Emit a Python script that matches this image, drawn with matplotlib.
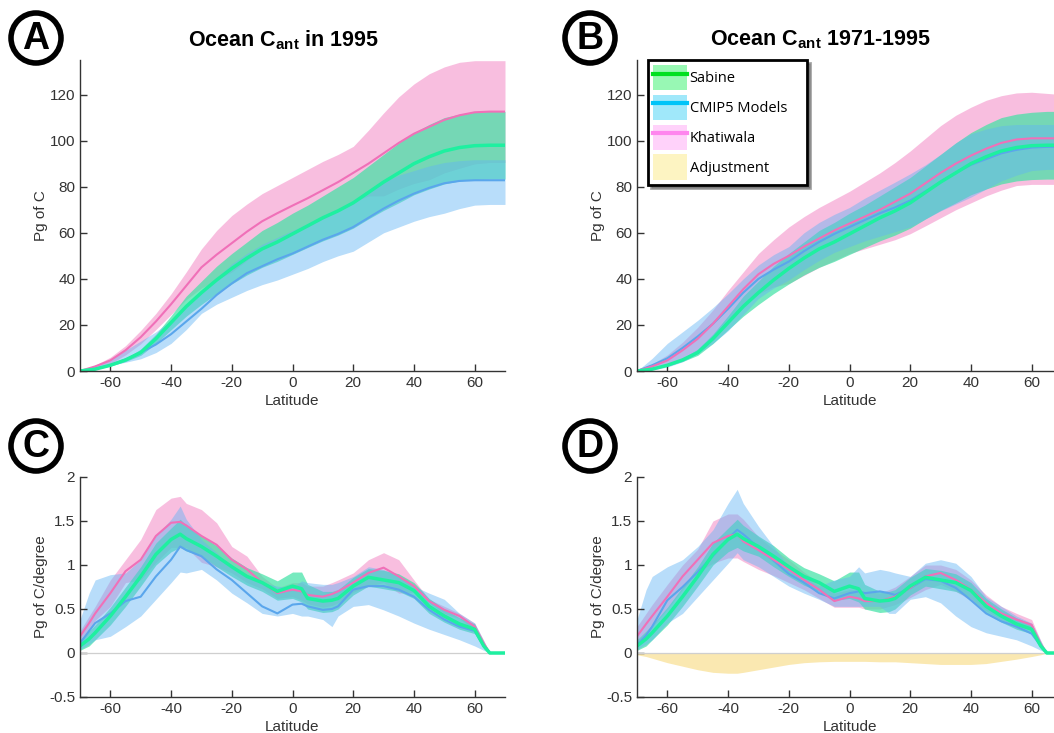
import matplotlib
matplotlib.use("Agg")
import matplotlib.pyplot as plt
from matplotlib.patches import Ellipse, Patch
from matplotlib.lines import Line2D

plt.rcParams['font.family'] = ['Liberation Sans', 'DejaVu Sans']
plt.rcParams['mathtext.fontset'] = 'custom'
plt.rcParams['mathtext.rm'] = 'Liberation Sans'
plt.rcParams['mathtext.bf'] = 'Liberation Sans:bold'

# ---- cumulative inventories (panels A, B), Pg C ----
lat = [-70, -65, -60, -55, -50, -45, -40, -35, -30, -25, -20, -15, -10, -5, 0,
       5, 10, 15, 20, 25, 30, 35, 40, 45, 50, 55, 60, 65, 70]

sabine = [0, 0.8, 2.5, 4.8, 8, 14, 21, 28, 34, 39.5, 44.5, 49, 53, 56, 59.5,
          63, 66.5, 69.5, 73, 77.5, 82, 86, 90, 93, 95.5, 97, 97.8, 98, 98]
sabine_hi = [0, 1, 3, 5.5, 9.5, 16, 24, 32.5, 39, 45.5, 51, 56, 61, 64.5, 68.5,
             72, 76, 80, 84, 89, 94, 99, 103.5, 107, 110, 111.5, 112.3, 112.7, 112.7]
sabine_lo = [0, 0.7, 2.1, 4.1, 6.8, 11.9, 17.9, 23.8, 28.9, 33.6, 37.8, 41.7, 45, 47.6, 50.6,
             53.6, 56.5, 59, 62, 66, 69.7, 73, 76.5, 79, 81.2, 82.5, 83.1, 83.3, 83.3]

khat_a = [0, 2, 4.6, 9, 14.7, 21.5, 29, 37, 45, 50.5, 55.5, 60.5, 65, 68.5, 71.8,
          75, 78.5, 82, 86, 90, 94.5, 99, 103, 106, 109, 111, 112.3, 112.6, 112.6]
khat_a_hi = [0, 2.5, 6, 11, 17.6, 25, 33.5, 43, 53, 61, 67.5, 72.5, 77, 80.5, 84,
             87.5, 91, 94, 97.5, 104.5, 112, 119, 124.6, 129, 132, 134, 134.7, 134.7, 134.7]
khat_a_lo = [0, 1.5, 3.2, 7, 11.8, 18, 24.5, 31, 36, 39.5, 43, 48, 53, 56.5, 59.6,
             62.5, 66, 69.5, 73.4, 76, 76, 79, 81.4, 83, 86, 88, 89.9, 90.5, 90.5]

cmip_a = [0, 1, 2.5, 5, 8, 11.5, 16, 21.5, 27, 33, 38, 42.5, 45.5, 48.5, 51,
          54, 57, 59.5, 62.5, 66.5, 70.5, 74, 77, 79.5, 81.5, 82.5, 82.8, 82.8, 82.8]
cmip_a_hi = [0, 2.5, 5, 9, 13, 17, 22, 28, 34, 40.5, 46.5, 51, 55, 58, 61,
             64, 67.5, 70.5, 74, 78, 82, 85, 87, 89, 90.5, 91.3, 91.7, 91.7, 91.7]
cmip_a_lo = [0, 0.5, 2.5, 3.8, 5.3, 8, 12, 18, 25, 29, 32, 35, 37.5, 39.5, 42,
             44.5, 47.5, 50, 52, 56, 60, 62.5, 65, 67, 68.5, 70.5, 72, 72.3, 72.3]

khat_b = [0, 2, 4.6, 9, 14, 20.5, 28, 35.5, 42, 46.5, 50, 54, 57.5, 61, 64,
          67, 70, 73.5, 77, 81.5, 86, 90, 93.5, 96.5, 99, 100.5, 101, 101, 101]
khat_b_hi = [0, 3, 7, 12.5, 19, 26.5, 35, 43, 51, 57, 62.5, 67, 71, 74.5, 78,
             82, 86, 90.5, 95.5, 101, 106.5, 111, 114.5, 117.5, 119.5, 120.7, 121, 120.5, 120]
khat_b_lo = [0, 1, 2.5, 5.5, 9, 14.5, 21, 28, 33.5, 36.5, 38, 41.5, 45, 48, 51,
             53, 55, 57, 59.6, 63, 66.5, 70, 73, 76, 78.5, 80.5, 81, 81, 81]

cmip_b = [0, 2.5, 5.5, 10, 15, 20.5, 27, 34, 40, 44, 47.5, 52, 56, 59.5, 62.5,
          65.5, 68.5, 71, 74, 78, 82, 86, 89.5, 92, 94.5, 96, 97, 97.3, 97.3]
cmip_b_hi = [0, 5.5, 12, 17, 22, 27.5, 33.5, 40, 46, 50.5, 54, 60, 64.5, 68, 71,
             75, 78.5, 82, 85.6, 89.5, 94, 99, 103, 105, 106.5, 107, 107, 107, 107]
cmip_b_lo = [0, 0.5, 1.7, 4, 7.5, 12, 17.5, 24.5, 31.5, 36, 39.5, 44, 48, 51.5, 54,
             56.5, 58.5, 60.5, 62.5, 66, 69.5, 72.5, 75.5, 79, 82.5, 85, 87, 87.5, 87.5]

# ---- uptake per degree of latitude (panels C, D) ----
lat_d = [-70, -67, -65, -60, -55, -50, -45, -40, -37, -35, -30, -25, -20, -15, -10, -5, 0,
         3, 5, 10, 13, 15, 20, 25, 30, 35, 40, 45, 50, 55, 60, 63, 65, 70]

sab_d = [.08, .16, .23, .42, .64, .87, 1.12, 1.29, 1.35, 1.30, 1.21, 1.10, .98, .87, .80, .70, .76,
         .73, .62, .59, .60, .62, .76, .86, .83, .80, .71, .53, .42, .33, .27, .08, 0, 0]
sab_d_hi = [.15, .25, .32, .52, .75, .98, 1.25, 1.42, 1.52, 1.45, 1.33, 1.22, 1.08, .97, .90, .82, .92,
            .92, .78, .70, .70, .72, .86, .96, .94, .90, .80, .62, .50, .40, .33, .12, 0, 0]
sab_d_lo = [.03, .08, .15, .32, .53, .76, 1.0, 1.15, 1.2, 1.16, 1.1, .98, .87, .77, .70, .60, .62,
            .58, .50, .46, .47, .50, .66, .76, .73, .70, .62, .45, .35, .27, .22, .05, 0, 0]

khat_c = [.19, .34, .45, .68, .93, 1.06, 1.33, 1.48, 1.49, 1.45, 1.33, 1.23, 1.06, .95, .80, .68, .72,
          .70, .66, .64, .67, .70, .80, .91, .97, .87, .76, .59, .49, .42, .30, .11, 0, 0]
khat_c_hi = [.25, .42, .53, .83, 1.06, 1.29, 1.63, 1.76, 1.78, 1.70, 1.63, 1.48, 1.21, 1.10, .87, .74, .80,
             .80, .76, .76, .80, .83, .91, 1.06, 1.14, 1.06, .83, .61, .53, .45, .34, .14, 0, 0]
khat_c_lo = [.13, .26, .37, .53, .80, .83, 1.03, 1.20, 1.20, 1.20, 1.03, .98, .91, .80, .73, .62, .64,
             .60, .56, .52, .54, .57, .69, .76, .80, .68, .69, .57, .45, .39, .26, .08, 0, 0]

cmip_c = [.11, .25, .34, .45, .59, .64, .87, 1.06, 1.21, 1.17, 1.10, .95, .83, .68, .53, .45, .55,
          .56, .53, .49, .50, .53, .72, .76, .76, .72, .64, .49, .38, .30, .25, .08, 0, 0]
cmip_c_hi = [.38, .68, .83, .89, .91, 1.06, 1.33, 1.52, 1.67, 1.52, 1.29, 1.14, .98, .87, .80, .76, .74,
             .82, .80, .78, .78, .80, .87, .98, .95, .87, .76, .68, .61, .45, .34, .14, 0, 0]
cmip_c_lo = [.04, .10, .15, .19, .30, .42, .61, .80, .92, .91, .95, .83, .68, .57, .45, .42, .45,
             .42, .42, .38, .30, .42, .53, .55, .49, .42, .34, .27, .21, .15, .08, .03, 0, 0]

khat_d = [.19, .33, .42, .64, .87, 1.06, 1.25, 1.33, 1.35, 1.27, 1.17, 1.06, .95, .83, .72, .59, .64,
          .62, .59, .59, .62, .64, .74, .87, .91, .83, .72, .57, .45, .38, .32, .10, 0, 0]
khat_d_hi = [.30, .45, .55, .78, 1.0, 1.18, 1.50, 1.58, 1.58, 1.52, 1.32, 1.18, 1.06, .92, .80, .68, .72,
             .72, .70, .68, .72, .75, .87, 1.0, 1.0, .95, .83, .66, .53, .45, .38, .14, 0, 0]
khat_d_lo = [.12, .22, .30, .50, .72, .92, 1.02, 1.08, 1.08, 1.04, .95, .88, .80, .72, .62, .52, .52,
             .52, .50, .50, .53, .55, .63, .72, .78, .70, .60, .48, .38, .31, .26, .07, 0, 0]

cmip_d = [.09, .20, .30, .60, .75, .92, 1.10, 1.30, 1.40, 1.35, 1.20, 1.05, .90, .80, .68, .62, .68,
          .70, .68, .70, .68, .66, .74, .84, .82, .74, .60, .45, .36, .30, .22, .08, 0, 0]
cmip_d_hi = [.38, .72, .87, .98, 1.06, 1.21, 1.40, 1.70, 1.86, 1.70, 1.44, 1.21, .98, .87, .76, .83, .87,
             .98, .91, .95, .93, .91, .87, 1.02, 1.06, 1.02, .87, .64, .53, .42, .34, .14, 0, 0]
cmip_d_lo = [.04, .10, .15, .34, .45, .64, .83, 1.02, 1.14, 1.06, .98, .87, .76, .68, .61, .53, .53,
             .53, .53, .53, .45, .45, .61, .64, .57, .42, .30, .23, .19, .15, .08, .03, 0, 0]

adjust = [-.02, -.04, -.06, -.11, -.15, -.19, -.22, -.23, -.23, -.22, -.19, -.16, -.13, -.11, -.10, -.095, -.095,
          -.095, -.095, -.10, -.10, -.10, -.11, -.12, -.13, -.13, -.13, -.12, -.095, -.07, -.04, -.02, 0, 0]

# colours
pink_f, pink_l = '#f27fc0', '#f070b8'
green_f, green_l = '#3ee2a4', '#1ef0a0'
blue_f, blue_l = '#62b4f4', '#5aa6ec'
yellow_f = '#f8df90'
axc = '#333333'

W, H = 1054, 733
fig = plt.figure(figsize=(W / 100, H / 100), dpi=100)


def make_ax(left, top, width, height):
    ax = fig.add_axes([left / W, 1 - (top + height) / H, width / W, height / H])
    for s in ['top', 'right']:
        ax.spines[s].set_visible(False)
    for s in ['left', 'bottom']:
        ax.spines[s].set_color(axc)
        ax.spines[s].set_linewidth(1)
    ax.tick_params(direction='in', length=5, colors=axc, labelsize=11, width=1)
    ax.set_xlim(-70, 70)
    ax.set_xticks([-60, -40, -20, 0, 20, 40, 60])
    ax.set_xticklabels(['-60', '-40', '-20', '0', '20', '40', '60'])
    ax.set_xlabel('Latitude', fontsize=11, color=axc, labelpad=3)
    return ax


def bands(ax, x, khi, klo, kl, shi, slo, sl, chi, clo, cl):
    ax.fill_between(x, klo, khi, color=pink_f, alpha=0.5, lw=0)
    ax.fill_between(x, slo, shi, color=green_f, alpha=0.7, lw=0)
    ax.fill_between(x, clo, chi, color=blue_f, alpha=0.45, lw=0)
    ax.plot(x, cl, color=blue_l, lw=1.5)
    ax.plot(x, kl, color=pink_l, lw=1.5)
    ax.plot(x, sl, color=green_l, lw=2.5)


# Panel A
axA = make_ax(80, 60, 425, 311)
bands(axA, lat, khat_a_hi, khat_a_lo, khat_a, sabine_hi, sabine_lo, sabine,
      cmip_a_hi, cmip_a_lo, cmip_a)
axA.set_ylim(0, 135)
axA.set_yticks([0, 20, 40, 60, 80, 100, 120])
axA.set_ylabel('Pg of C', fontsize=11, color=axc, labelpad=1)

# Panel B
axB = make_ax(637, 60, 425, 311)
bands(axB, lat, khat_b_hi, khat_b_lo, khat_b, sabine_hi, sabine_lo, sabine,
      cmip_b_hi, cmip_b_lo, cmip_b)
axB.set_ylim(0, 135)
axB.set_yticks([0, 20, 40, 60, 80, 100, 120])
axB.set_ylabel('Pg of C', fontsize=11, color=axc, labelpad=1)

# Panel C
axC = make_ax(80, 477, 425, 220)
axC.axhline(0, color='#cfcfcf', lw=0.9)
bands(axC, lat_d, khat_c_hi, khat_c_lo, khat_c, sab_d_hi, sab_d_lo, sab_d,
      cmip_c_hi, cmip_c_lo, cmip_c)
axC.set_ylim(-0.5, 2)
axC.set_yticks([-0.5, 0, 0.5, 1, 1.5, 2])
axC.set_yticklabels(['-0.5', '0', '0.5', '1', '1.5', '2'])
axC.set_ylabel('Pg of C/degree', fontsize=11, color=axc, labelpad=1)

# Panel D
axD = make_ax(637, 477, 425, 220)
axD.axhline(0, color='#cfcfcf', lw=0.9)
axD.fill_between(lat_d, adjust, 0, color=yellow_f, alpha=0.7, lw=0)
bands(axD, lat_d, khat_d_hi, khat_d_lo, khat_d, sab_d_hi, sab_d_lo, sab_d,
      cmip_d_hi, cmip_d_lo, cmip_d)
axD.set_ylim(-0.5, 2)
axD.set_yticks([-0.5, 0, 0.5, 1, 1.5, 2])
axD.set_yticklabels(['-0.5', '0', '0.5', '1', '1.5', '2'])
axD.set_ylabel('Pg of C/degree', fontsize=11, color=axc, labelpad=1)

# titles
fig.text(283 / W, 1 - 40 / H, r'Ocean C$_{\mathbf{ant}}$ in 1995', ha='center', va='center',
         fontsize=15.5, fontweight='bold')
fig.text(820 / W, 1 - 40 / H, r'Ocean C$_{\mathbf{ant}}$ 1971-1995', ha='center', va='center',
         fontsize=15.5, fontweight='bold')

# circled panel letters
for letter, cx, cy in [('A', 36, 38), ('B', 590, 38), ('C', 36, 446), ('D', 590, 446)]:
    fig.add_artist(Ellipse((cx / W, 1 - cy / H), 50 / W, 50 / H, transform=fig.transFigure,
                           fill=False, ec='black', lw=4))
    fig.text(cx / W, 1 - (cy + 1) / H, letter, ha='center', va='center', fontsize=27,
             fontweight='bold')

# legend in panel B
handles = [
    (Patch(facecolor='#98f8b4', lw=0), Line2D([], [], color='#00e020', lw=3)),
    (Patch(facecolor='#a0e8fa', lw=0), Line2D([], [], color='#00c4f8', lw=3)),
    (Patch(facecolor='#ffd2fa', lw=0), Line2D([], [], color='#ff86ee', lw=3)),
    Patch(facecolor='#fdf4c2', lw=0),
]
labels = ['Sabine', 'CMIP5 Models    ', 'Khatiwala', 'Adjustment']
leg = fig.legend(handles, labels, loc='upper left', bbox_to_anchor=(648 / W, 1 - 60 / H),
                 prop={'family': ['Open Sans', 'DejaVu Sans'], 'size': 10.5},
                 frameon=True, fancybox=False, shadow=True, edgecolor='black',
                 handlelength=2.3, handleheight=2.3, handletextpad=0.2,
                 labelspacing=0.3, borderpad=0.35, borderaxespad=0)
leg.get_frame().set_linewidth(2)

fig.savefig('out.png', dpi=100)
